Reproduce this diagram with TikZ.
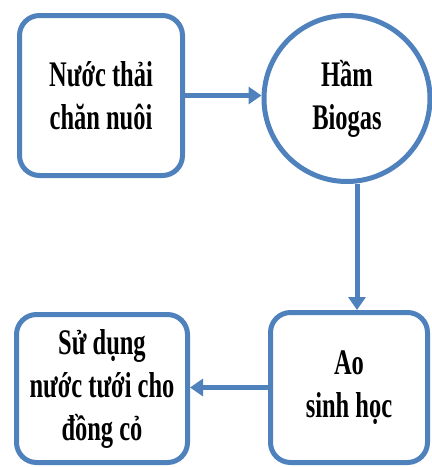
\documentclass[tikz,border=0pt]{standalone}
\usepackage{fontspec}
\newfontfamily\vnfont[FakeStretch=0.68]{Liberation Serif}
\usepackage{tikz}
\usetikzlibrary{arrows.meta,shapes.geometric}
\definecolor{flowblue}{HTML}{4F81BD}

\begin{document}
\begin{tikzpicture}[x=1pt,y=-1pt,
  box/.style={draw=flowblue,line width=5pt,rounded corners=20pt,align=center,
    inner sep=0pt,font=\vnfont\bfseries\fontsize{36}{43}\selectfont},
  tank/.style={draw=flowblue,line width=5pt,circle,align=center,inner sep=0pt,
    font=\vnfont\bfseries\fontsize{36}{43}\selectfont}]
\useasboundingbox (0,0) rectangle (432,467);
\node[box,minimum width=163pt,minimum height=160pt] (nt) at (101,95.5) {Nước thải\\chăn nuôi};
\node[tank,minimum size=166pt] (hb) at (347,98.5) {Hầm\\Biogas};
\node[box,minimum width=157pt,minimum height=150pt] (ao) at (349,387.5) {Ao\\sinh học};
\node[box,minimum width=171pt,minimum height=148pt] (sd) at (102,388.5) {Sử dụng\\nước tưới cho\\đồng cỏ};
\path[-{Triangle[length=13pt,width=17pt]},color=flowblue,line width=5pt]
(nt.east) edge (nt.east -| hb.west)
([xshift=10pt]hb.south) edge ([xshift=8pt]ao.north)
(ao.west) edge (ao.west -| sd.east);
\end{tikzpicture}
\end{document}
